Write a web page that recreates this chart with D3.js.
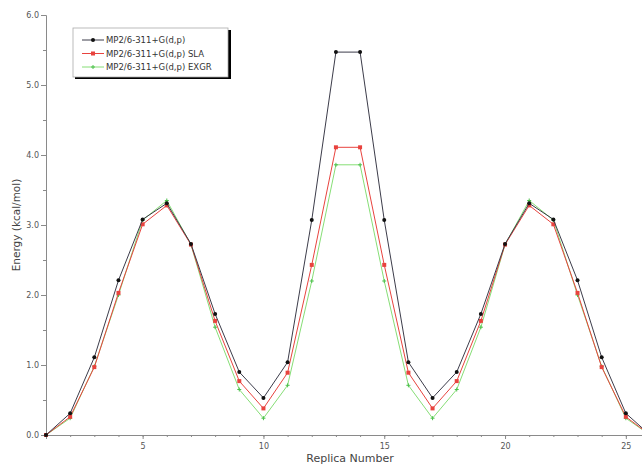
<!DOCTYPE html>
<html lang="en">
<head>
    <meta charset="UTF-8">
    <title>Replica energies</title>
    <script src="https://d3js.org/d3.v7.min.js"></script>
    <style>
        body { margin: 0; background: #fff; }
        text { font-family: "DejaVu Sans", sans-serif; }
    </style>
</head>
<body>
    <div id="chart"></div>

    <script>
        // replica index 1..26
        var replicas = d3.range(1, 27);

        var mp2 = [0.00, 0.31, 1.11, 2.21, 3.08, 3.31, 2.73, 1.73, 0.90, 0.53, 1.04, 3.07, 5.47,
                   5.47, 3.07, 1.04, 0.53, 0.90, 1.73, 2.73, 3.31, 3.08, 2.21, 1.11, 0.31, 0.00];
        var sla = [0.00, 0.26, 0.97, 2.03, 3.01, 3.28, 2.72, 1.63, 0.77, 0.38, 0.89, 2.43, 4.11,
                   4.11, 2.43, 0.89, 0.38, 0.77, 1.63, 2.72, 3.28, 3.01, 2.03, 0.97, 0.26, 0.00];
        var exgr = [0.00, 0.24, 0.98, 2.00, 3.07, 3.35, 2.72, 1.54, 0.65, 0.24, 0.71, 2.20, 3.86,
                    3.86, 2.20, 0.71, 0.24, 0.65, 1.54, 2.72, 3.35, 3.07, 2.00, 0.98, 0.24, 0.00];

        var seriesNames = ["MP2/6-311+G(d,p)", "MP2/6-311+G(d,p) SLA", "MP2/6-311+G(d,p) EXGR"];
        var seriesColors = ["#3c3c4a", "#e8433e", "#86de76"];
        var yTicks = [0, 1, 2, 3, 4, 5, 6];
        var xTicks = [5, 10, 15, 20, 25];

        var w = 642;
        var h = 465;
        var svg = d3.select("#chart").append("svg")
            .attr("width", w)
            .attr("height", h);

        var xScale = d3.scaleLinear()
            .domain([1, 26])
            .range([46, 650]);

        var yScale = d3.scaleLinear()
            .domain([0, 6])
            .range([435, 15]);

        // axes
        var axisColor = "#8a8a8a";

        svg.append("g")
            .attr("transform", "translate(" + xScale(1) + ",0)")
            .call(d3.axisLeft(yScale).tickValues(yTicks).tickFormat(d3.format(".1f")).tickSize(5).tickPadding(2));
        svg.append("g")
            .attr("transform", "translate(" + xScale(1) + ",0)")
            .call(d3.axisLeft(yScale).tickValues(d3.range(0.5, 6, 1)).tickFormat("").tickSize(3))
            .select(".domain").remove();

        svg.append("g")
            .attr("transform", "translate(0," + yScale(0) + ")")
            .call(d3.axisBottom(xScale).tickValues(xTicks).tickFormat(d3.format("d")).tickSize(4).tickPadding(4));
        svg.append("g")
            .attr("transform", "translate(0," + yScale(0) + ")")
            .call(d3.axisBottom(xScale).tickValues(replicas).tickFormat("").tickSize(2))
            .select(".domain").remove();

        svg.selectAll(".domain, .tick line")
            .attr("stroke", axisColor);
        svg.selectAll(".tick text")
            .attr("fill", "#555")
            .style("font-size", "8px");

        // titles
        svg.append("text")
            .attr("x", 350)
            .attr("y", 462)
            .attr("text-anchor", "middle")
            .attr("fill", "#444")
            .style("font-size", "11px")
            .text("Replica Number");

        svg.append("text")
            .attr("transform", "translate(20,225) rotate(-90)")
            .attr("text-anchor", "middle")
            .attr("fill", "#444")
            .style("font-size", "10.5px")
            .text("Energy (kcal/mol)");

        // lines
        var allSeries = [mp2, sla, exgr];
        var line = d3.line()
            .x(function(d, i) { return xScale(replicas[i]); })
            .y(function(d) { return yScale(d); });

        // draw green first, black on top
        [2, 1, 0].forEach(function(k) {
            var g = svg.append("g");
            g.append("path")
                .datum(allSeries[k])
                .attr("fill", "none")
                .attr("stroke", seriesColors[k])
                .attr("stroke-width", 1)
                .attr("d", line);

            var pts = g.selectAll(".pt")
                .data(allSeries[k])
                .enter();

            if (k === 0) {
                pts.append("circle")
                    .attr("cx", function(d, i) { return xScale(replicas[i]); })
                    .attr("cy", function(d) { return yScale(d); })
                    .attr("r", 2)
                    .attr("fill", "#111");
            } else if (k === 1) {
                pts.append("rect")
                    .attr("x", function(d, i) { return xScale(replicas[i]) - 2; })
                    .attr("y", function(d) { return yScale(d) - 2; })
                    .attr("width", 4)
                    .attr("height", 4)
                    .attr("fill", seriesColors[1]);
            } else {
                pts.append("path")
                    .attr("transform", function(d, i) {
                        return "translate(" + xScale(replicas[i]) + "," + yScale(d) + ")";
                    })
                    .attr("d", "M-2,0H2M0,-2V2")
                    .attr("stroke", "#4cc04c")
                    .attr("stroke-width", 1);
            }
        });

        // legend
        var legend = svg.append("g").attr("transform", "translate(73,28)");
        legend.append("rect")
            .attr("x", 2).attr("y", 2)
            .attr("width", 156).attr("height", 49)
            .attr("fill", "#000");
        legend.append("rect")
            .attr("width", 155).attr("height", 49)
            .attr("fill", "#fff")
            .attr("stroke", "#aaa")
            .attr("stroke-width", 0.8);

        seriesNames.forEach(function(name, k) {
            var ly = 12 + k * 13.5;
            legend.append("line")
                .attr("x1", 9).attr("x2", 31)
                .attr("y1", ly).attr("y2", ly)
                .attr("stroke", seriesColors[k])
                .attr("stroke-width", 1);
            if (k === 0) {
                legend.append("circle").attr("cx", 20).attr("cy", ly).attr("r", 2).attr("fill", "#111");
            } else if (k === 1) {
                legend.append("rect").attr("x", 18).attr("y", ly - 2).attr("width", 4).attr("height", 4).attr("fill", seriesColors[1]);
            } else {
                legend.append("path").attr("transform", "translate(20," + ly + ")")
                    .attr("d", "M-2,0H2M0,-2V2").attr("stroke", "#4cc04c");
            }
            legend.append("text")
                .attr("x", 33)
                .attr("y", ly + 3)
                .attr("fill", "#333")
                .style("font-size", "8.5px")
                .text(name);
        });
    </script>
</body>
</html>
